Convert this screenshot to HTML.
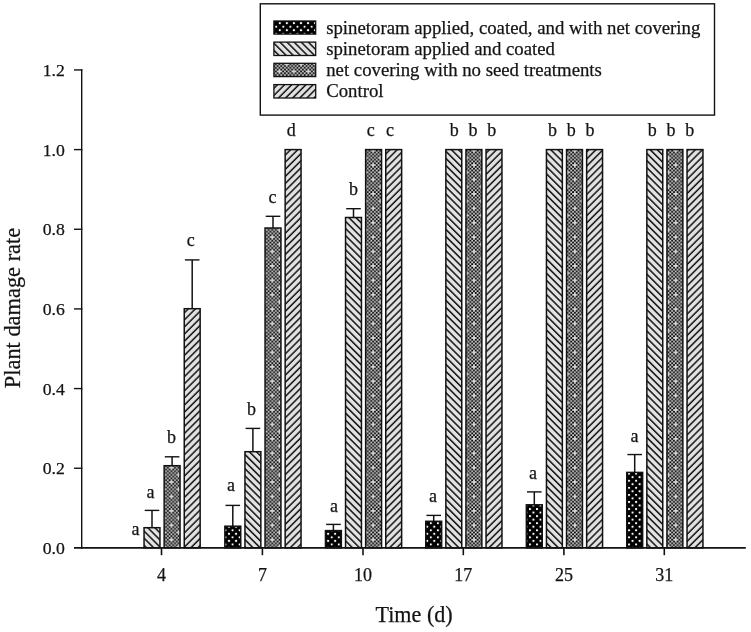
<!DOCTYPE html>
<html><head><meta charset="utf-8"><title>Plant damage rate</title>
<style>html,body{margin:0;padding:0;background:#fff;}svg{display:block;will-change:transform;}text{font-family:"Liberation Serif",serif;fill:#141414;stroke:#141414;stroke-width:0.25px;}</style>
</head><body>
<svg width="751" height="632" viewBox="0 0 751 632">
<defs>
<pattern id="p1" patternUnits="userSpaceOnUse" width="7.080" height="7.080" x="5.075" y="5.435">
<rect width="7.080" height="7.080" fill="#000"/>
<rect x="-0.1" y="-0.1" width="1.970" height="1.970" fill="#fff"/>
<rect x="3.440" y="3.440" width="1.970" height="1.970" fill="#fff"/>
</pattern>
<pattern id="p1L" patternUnits="userSpaceOnUse" width="7.080" height="7.080" x="6.275" y="4.535">
<rect width="7.080" height="7.080" fill="#000"/>
<rect x="-0.1" y="-0.1" width="1.970" height="1.970" fill="#fff"/>
<rect x="3.440" y="3.440" width="1.970" height="1.970" fill="#fff"/>
</pattern>
<pattern id="p2" patternUnits="userSpaceOnUse" width="20" height="5.0205" patternTransform="rotate(45)">
<rect width="20" height="5.0205" fill="#e2e2e2"/>
<rect x="0" y="-3.1955" width="20" height="1.5" fill="#111"/>
<rect x="0" y="1.8250" width="20" height="1.5" fill="#111"/>
<rect x="0" y="6.8455" width="20" height="1.5" fill="#111"/>
</pattern>
<pattern id="p4" patternUnits="userSpaceOnUse" width="20" height="5.0205" patternTransform="rotate(-45)">
<rect width="20" height="5.0205" fill="#e2e2e2"/>
<rect x="0" y="-5.6295" width="20" height="1.5" fill="#111"/>
<rect x="0" y="-0.6090" width="20" height="1.5" fill="#111"/>
<rect x="0" y="4.4115" width="20" height="1.5" fill="#111"/>
</pattern>
<pattern id="p3" patternUnits="userSpaceOnUse" width="14.408" height="14.408" x="12.04" y="5.69">
<rect width="14.408" height="14.408" fill="#d4d4d4"/>
<rect x="0.000" y="3.602" width="1.801" height="1.801" fill="#000"/>
<rect x="0.000" y="7.204" width="1.801" height="1.801" fill="#000"/>
<rect x="0.000" y="10.806" width="1.801" height="1.801" fill="#000"/>
<rect x="1.801" y="1.801" width="1.801" height="1.801" fill="#000"/>
<rect x="1.801" y="5.403" width="1.801" height="1.801" fill="#000"/>
<rect x="1.801" y="9.005" width="1.801" height="1.801" fill="#000"/>
<rect x="1.801" y="12.607" width="1.801" height="1.801" fill="#000"/>
<rect x="3.602" y="0.000" width="1.801" height="1.801" fill="#000"/>
<rect x="3.602" y="3.602" width="1.801" height="1.801" fill="#000"/>
<rect x="3.602" y="7.204" width="1.801" height="1.801" fill="#000"/>
<rect x="3.602" y="10.806" width="1.801" height="1.801" fill="#000"/>
<rect x="5.403" y="1.801" width="1.801" height="1.801" fill="#000"/>
<rect x="5.403" y="5.403" width="1.801" height="1.801" fill="#000"/>
<rect x="5.403" y="9.005" width="1.801" height="1.801" fill="#000"/>
<rect x="5.403" y="12.607" width="1.801" height="1.801" fill="#000"/>
<rect x="7.204" y="0.000" width="1.801" height="1.801" fill="#000"/>
<rect x="7.204" y="3.602" width="1.801" height="1.801" fill="#000"/>
<rect x="7.204" y="10.806" width="1.801" height="1.801" fill="#000"/>
<rect x="9.005" y="1.801" width="1.801" height="1.801" fill="#000"/>
<rect x="9.005" y="5.403" width="1.801" height="1.801" fill="#000"/>
<rect x="9.005" y="9.005" width="1.801" height="1.801" fill="#000"/>
<rect x="9.005" y="12.607" width="1.801" height="1.801" fill="#000"/>
<rect x="10.806" y="0.000" width="1.801" height="1.801" fill="#000"/>
<rect x="10.806" y="3.602" width="1.801" height="1.801" fill="#000"/>
<rect x="10.806" y="7.204" width="1.801" height="1.801" fill="#000"/>
<rect x="10.806" y="10.806" width="1.801" height="1.801" fill="#000"/>
<rect x="12.607" y="1.801" width="1.801" height="1.801" fill="#000"/>
<rect x="12.607" y="5.403" width="1.801" height="1.801" fill="#000"/>
<rect x="12.607" y="9.005" width="1.801" height="1.801" fill="#000"/>
<rect x="12.607" y="12.607" width="1.801" height="1.801" fill="#000"/>
</pattern>
</defs>
<rect width="751" height="632" fill="#fff"/>
<line x1="152.00" y1="510.40" x2="152.00" y2="527.70" stroke="#121212" stroke-width="1.5"/>
<line x1="144.70" y1="510.40" x2="159.30" y2="510.40" stroke="#121212" stroke-width="1.4"/>
<rect x="144.05" y="527.70" width="15.90" height="20.20" fill="url(#p2)" stroke="#121212" stroke-width="1.5"/>
<line x1="172.10" y1="456.80" x2="172.10" y2="465.70" stroke="#121212" stroke-width="1.5"/>
<line x1="164.80" y1="456.80" x2="179.40" y2="456.80" stroke="#121212" stroke-width="1.4"/>
<rect x="164.15" y="465.70" width="15.90" height="82.20" fill="url(#p3)" stroke="#121212" stroke-width="1.5"/>
<line x1="192.20" y1="259.90" x2="192.20" y2="308.70" stroke="#121212" stroke-width="1.5"/>
<line x1="184.90" y1="259.90" x2="199.50" y2="259.90" stroke="#121212" stroke-width="1.4"/>
<rect x="184.25" y="308.70" width="15.90" height="239.20" fill="url(#p4)" stroke="#121212" stroke-width="1.5"/>
<line x1="232.80" y1="505.40" x2="232.80" y2="526.20" stroke="#121212" stroke-width="1.5"/>
<line x1="225.50" y1="505.40" x2="240.10" y2="505.40" stroke="#121212" stroke-width="1.4"/>
<rect x="224.85" y="526.20" width="15.90" height="21.70" fill="url(#p1)" stroke="#121212" stroke-width="1.5"/>
<line x1="252.90" y1="428.40" x2="252.90" y2="451.70" stroke="#121212" stroke-width="1.5"/>
<line x1="245.60" y1="428.40" x2="260.20" y2="428.40" stroke="#121212" stroke-width="1.4"/>
<rect x="244.95" y="451.70" width="15.90" height="96.20" fill="url(#p2)" stroke="#121212" stroke-width="1.5"/>
<line x1="273.00" y1="216.30" x2="273.00" y2="228.00" stroke="#121212" stroke-width="1.5"/>
<line x1="265.70" y1="216.30" x2="280.30" y2="216.30" stroke="#121212" stroke-width="1.4"/>
<rect x="265.05" y="228.00" width="15.90" height="319.90" fill="url(#p3)" stroke="#121212" stroke-width="1.5"/>
<rect x="285.15" y="149.60" width="15.90" height="398.30" fill="url(#p4)" stroke="#121212" stroke-width="1.5"/>
<line x1="333.40" y1="524.40" x2="333.40" y2="530.60" stroke="#121212" stroke-width="1.5"/>
<line x1="326.10" y1="524.40" x2="340.70" y2="524.40" stroke="#121212" stroke-width="1.4"/>
<rect x="325.45" y="530.60" width="15.90" height="17.30" fill="url(#p1)" stroke="#121212" stroke-width="1.5"/>
<line x1="353.50" y1="208.70" x2="353.50" y2="217.50" stroke="#121212" stroke-width="1.5"/>
<line x1="346.20" y1="208.70" x2="360.80" y2="208.70" stroke="#121212" stroke-width="1.4"/>
<rect x="345.55" y="217.50" width="15.90" height="330.40" fill="url(#p2)" stroke="#121212" stroke-width="1.5"/>
<rect x="365.65" y="149.60" width="15.90" height="398.30" fill="url(#p3)" stroke="#121212" stroke-width="1.5"/>
<rect x="385.75" y="149.60" width="15.90" height="398.30" fill="url(#p4)" stroke="#121212" stroke-width="1.5"/>
<line x1="433.70" y1="515.40" x2="433.70" y2="521.30" stroke="#121212" stroke-width="1.5"/>
<line x1="426.40" y1="515.40" x2="441.00" y2="515.40" stroke="#121212" stroke-width="1.4"/>
<rect x="425.75" y="521.30" width="15.90" height="26.60" fill="url(#p1)" stroke="#121212" stroke-width="1.5"/>
<rect x="445.85" y="149.60" width="15.90" height="398.30" fill="url(#p2)" stroke="#121212" stroke-width="1.5"/>
<rect x="465.95" y="149.60" width="15.90" height="398.30" fill="url(#p3)" stroke="#121212" stroke-width="1.5"/>
<rect x="486.05" y="149.60" width="15.90" height="398.30" fill="url(#p4)" stroke="#121212" stroke-width="1.5"/>
<line x1="534.30" y1="491.90" x2="534.30" y2="504.80" stroke="#121212" stroke-width="1.5"/>
<line x1="527.00" y1="491.90" x2="541.60" y2="491.90" stroke="#121212" stroke-width="1.4"/>
<rect x="526.35" y="504.80" width="15.90" height="43.10" fill="url(#p1)" stroke="#121212" stroke-width="1.5"/>
<rect x="546.45" y="149.60" width="15.90" height="398.30" fill="url(#p2)" stroke="#121212" stroke-width="1.5"/>
<rect x="566.55" y="149.60" width="15.90" height="398.30" fill="url(#p3)" stroke="#121212" stroke-width="1.5"/>
<rect x="586.65" y="149.60" width="15.90" height="398.30" fill="url(#p4)" stroke="#121212" stroke-width="1.5"/>
<line x1="634.70" y1="454.55" x2="634.70" y2="472.40" stroke="#121212" stroke-width="1.5"/>
<line x1="627.40" y1="454.55" x2="642.00" y2="454.55" stroke="#121212" stroke-width="1.4"/>
<rect x="626.75" y="472.40" width="15.90" height="75.50" fill="url(#p1)" stroke="#121212" stroke-width="1.5"/>
<rect x="646.85" y="149.60" width="15.90" height="398.30" fill="url(#p2)" stroke="#121212" stroke-width="1.5"/>
<rect x="666.95" y="149.60" width="15.90" height="398.30" fill="url(#p3)" stroke="#121212" stroke-width="1.5"/>
<rect x="687.05" y="149.60" width="15.90" height="398.30" fill="url(#p4)" stroke="#121212" stroke-width="1.5"/>
<line x1="81.7" y1="69.3" x2="81.7" y2="548.7" stroke="#121212" stroke-width="1.4"/>
<line x1="74" y1="547.9" x2="745.8" y2="547.9" stroke="#121212" stroke-width="1.7"/>
<line x1="74" y1="468.24" x2="82.4" y2="468.24" stroke="#121212" stroke-width="1.4"/>
<line x1="74" y1="388.58" x2="82.4" y2="388.58" stroke="#121212" stroke-width="1.4"/>
<line x1="74" y1="308.92" x2="82.4" y2="308.92" stroke="#121212" stroke-width="1.4"/>
<line x1="74" y1="229.26" x2="82.4" y2="229.26" stroke="#121212" stroke-width="1.4"/>
<line x1="74" y1="149.60" x2="82.4" y2="149.60" stroke="#121212" stroke-width="1.4"/>
<line x1="74" y1="69.94" x2="82.4" y2="69.94" stroke="#121212" stroke-width="1.4"/>
<line x1="161.50" y1="547.2" x2="161.50" y2="555.2" stroke="#121212" stroke-width="1.6"/>
<line x1="262.40" y1="547.2" x2="262.40" y2="555.2" stroke="#121212" stroke-width="1.6"/>
<line x1="363.00" y1="547.2" x2="363.00" y2="555.2" stroke="#121212" stroke-width="1.6"/>
<line x1="463.30" y1="547.2" x2="463.30" y2="555.2" stroke="#121212" stroke-width="1.6"/>
<line x1="563.90" y1="547.2" x2="563.90" y2="555.2" stroke="#121212" stroke-width="1.6"/>
<line x1="664.30" y1="547.2" x2="664.30" y2="555.2" stroke="#121212" stroke-width="1.6"/>
<text x="64.8" y="553.85" font-size="17.7" text-anchor="end">0.0</text>
<text x="64.8" y="474.19" font-size="17.7" text-anchor="end">0.2</text>
<text x="64.8" y="394.53" font-size="17.7" text-anchor="end">0.4</text>
<text x="64.8" y="314.87" font-size="17.7" text-anchor="end">0.6</text>
<text x="64.8" y="235.21" font-size="17.7" text-anchor="end">0.8</text>
<text x="64.8" y="155.55" font-size="17.7" text-anchor="end">1.0</text>
<text x="64.8" y="75.89" font-size="17.7" text-anchor="end">1.2</text>
<text x="161.50" y="580.8" font-size="18" text-anchor="middle">4</text>
<text x="262.40" y="580.8" font-size="18" text-anchor="middle">7</text>
<text x="363.00" y="580.8" font-size="18" text-anchor="middle">10</text>
<text x="463.30" y="580.8" font-size="18" text-anchor="middle">17</text>
<text x="563.90" y="580.8" font-size="18" text-anchor="middle">25</text>
<text x="664.30" y="580.8" font-size="18" text-anchor="middle">31</text>
<text x="414.1" y="622" font-size="22.1" text-anchor="middle">Time (d)</text>
<text transform="translate(20.2,308) rotate(-90)" font-size="22.4" text-anchor="middle">Plant damage rate</text>
<text x="135.60" y="534.90" font-size="18" text-anchor="middle">a</text>
<text x="150.40" y="497.60" font-size="18" text-anchor="middle">a</text>
<text x="171.50" y="443.10" font-size="18" text-anchor="middle">b</text>
<text x="190.75" y="246.40" font-size="18" text-anchor="middle">c</text>
<text x="231.00" y="490.60" font-size="18" text-anchor="middle">a</text>
<text x="251.50" y="415.00" font-size="18" text-anchor="middle">b</text>
<text x="272.40" y="203.40" font-size="18" text-anchor="middle">c</text>
<text x="291.25" y="136.30" font-size="18" text-anchor="middle">d</text>
<text x="333.90" y="511.50" font-size="18" text-anchor="middle">a</text>
<text x="353.50" y="195.10" font-size="18" text-anchor="middle">b</text>
<text x="370.75" y="136.30" font-size="18" text-anchor="middle">c</text>
<text x="390.00" y="136.30" font-size="18" text-anchor="middle">c</text>
<text x="432.90" y="501.60" font-size="18" text-anchor="middle">a</text>
<text x="454.25" y="136.30" font-size="18" text-anchor="middle">b</text>
<text x="473.00" y="136.30" font-size="18" text-anchor="middle">b</text>
<text x="491.75" y="136.30" font-size="18" text-anchor="middle">b</text>
<text x="532.90" y="478.70" font-size="18" text-anchor="middle">a</text>
<text x="552.50" y="136.30" font-size="18" text-anchor="middle">b</text>
<text x="571.25" y="136.30" font-size="18" text-anchor="middle">b</text>
<text x="590.00" y="136.30" font-size="18" text-anchor="middle">b</text>
<text x="634.60" y="441.60" font-size="18" text-anchor="middle">a</text>
<text x="652.25" y="136.30" font-size="18" text-anchor="middle">b</text>
<text x="671.00" y="136.30" font-size="18" text-anchor="middle">b</text>
<text x="689.75" y="136.30" font-size="18" text-anchor="middle">b</text>
<rect x="260.3" y="3.8" width="454.2" height="111.3" fill="#fff" stroke="#121212" stroke-width="1.4"/>
<rect x="273.9" y="21.00" width="41.8" height="13.10" fill="url(#p1L)" stroke="#121212" stroke-width="1.3"/>
<rect x="273.9" y="42.10" width="41.8" height="13.40" fill="url(#p2)" stroke="#121212" stroke-width="1.3"/>
<rect x="273.9" y="63.30" width="41.8" height="13.30" fill="url(#p3)" stroke="#121212" stroke-width="1.3"/>
<rect x="273.9" y="84.60" width="41.8" height="13.40" fill="url(#p4)" stroke="#121212" stroke-width="1.3"/>
<text x="326.2" y="33.50" font-size="18.78">spinetoram applied, coated, and with net covering</text>
<text x="326.2" y="54.75" font-size="18.78">spinetoram applied and coated</text>
<text x="326.2" y="76.00" font-size="18.78">net covering with no seed treatments</text>
<text x="326.2" y="97.00" font-size="18.78">Control</text>
</svg>
</body></html>
